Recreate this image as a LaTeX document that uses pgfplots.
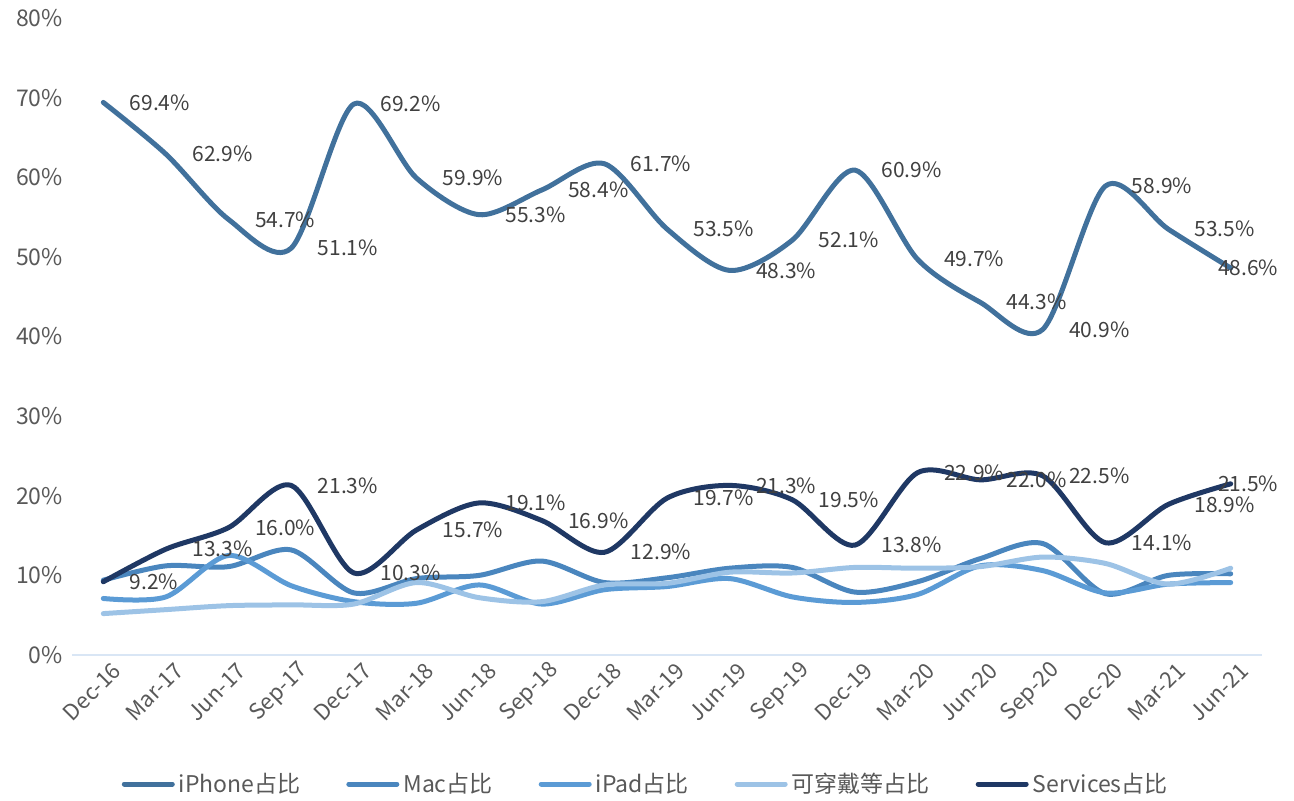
\documentclass[border=0pt]{standalone}
\usepackage{pgfplots}
\pgfplotsset{compat=1.18}
\usepackage{fontspec}
\setmainfont{Noto Sans CJK SC}
\definecolor{cIphone}{RGB}{65,113,156}
\definecolor{cMac}{RGB}{74,134,190}
\definecolor{cIpad}{RGB}{91,155,213}
\definecolor{cWear}{RGB}{157,195,230}
\definecolor{cServ}{RGB}{31,56,100}
\definecolor{cTick}{RGB}{89,89,89}
\definecolor{cLab}{RGB}{64,64,64}
\definecolor{cAxis}{RGB}{217,230,245}
\begin{document}
\begin{tikzpicture}
\begin{axis}[
  scale only axis,
  width=595pt, height=318.5pt,
  xmin=-0.5, xmax=18.5, ymin=0, ymax=80,
  /pgf/number format/assume math mode=true,
  separate axis lines,
  axis x line*=bottom,
  axis y line*=left,
  x axis line style={draw=cAxis, line width=0.8pt},
  y axis line style={draw=none},
  major tick length=0pt,
  ytick={0,10,...,80},
  yticklabel={\pgfmathprintnumber{\tick}\%},
  yticklabel style={font=\fontsize{11.5}{13}\selectfont, text=cTick, xshift=-1pt},
  xtick={0,...,18},
  xticklabels={Dec-16,Mar-17,Jun-17,Sep-17,Dec-17,Mar-18,Jun-18,Sep-18,Dec-18,Mar-19,Jun-19,Sep-19,Dec-19,Mar-20,Jun-20,Sep-20,Dec-20,Mar-21,Jun-21},
  xticklabel style={font=\fontsize{11}{13}\selectfont, text=cTick, rotate=45, anchor=east, xshift=4pt, yshift=-9pt},
  every axis plot/.append style={smooth, line width=2.5pt, line cap=round, line join=round, mark=none},
  legend columns=5,
  legend style={at={(0.483,-0.2025)}, anchor=center, draw=none, fill=none,
    font=\fontsize{11.5}{13}\selectfont, text=cTick,
    /tikz/every even column/.append style={column sep=21pt}},
  legend image code/.code={\draw[#1, line width=2.5pt, line cap=round] (0pt,0pt) -- (24pt,0pt);},
  lblR/.style={draw=none, forget plot, nodes near coords={\pgfmathprintnumber[fixed,fixed zerofill,precision=1]{\pgfplotspointmeta}\%},
    every node near coord/.append style={anchor=west, inner sep=0pt, xshift=12pt,
      font=\fontsize{10.5}{12}\selectfont, text=cLab}},
  lblL/.style={draw=none, forget plot, nodes near coords={\pgfmathprintnumber[fixed,fixed zerofill,precision=1]{\pgfplotspointmeta}\%},
    every node near coord/.append style={anchor=east, inner sep=0pt, xshift=25pt,
      font=\fontsize{10.5}{12}\selectfont, text=cLab}},
]
\addplot[cIphone] coordinates {
(0,69.4) (1,62.9) (2,54.7) (3,51.1) (4,69.2) (5,59.9) (6,55.3) (7,58.4) (8,61.7) (9,53.5)
(10,48.3) (11,52.1) (12,60.9) (13,49.7) (14,44.3) (15,40.9) (16,58.9) (17,53.5) (18,48.6)};
\addlegendentry{iPhone占比}
\addplot[cMac] coordinates {
(0,9.4) (1,11.2) (2,11.1) (3,13.2) (4,7.8) (5,9.6) (6,10.0) (7,11.8) (8,9.1) (9,9.7)
(10,10.9) (11,11.0) (12,7.9) (13,9.2) (14,12.1) (15,14.0) (16,7.7) (17,10.0) (18,10.2)};
\addlegendentry{Mac占比}
\addplot[cIpad] coordinates {
(0,7.1) (1,7.3) (2,12.5) (3,8.7) (4,6.7) (5,6.5) (6,8.8) (7,6.4) (8,8.2) (9,8.6)
(10,9.6) (11,7.3) (12,6.6) (13,7.6) (14,11.2) (15,10.6) (16,7.8) (17,8.9) (18,9.1)};
\addlegendentry{iPad占比}
\addplot[cWear] coordinates {
(0,5.2) (1,5.7) (2,6.2) (3,6.3) (4,6.4) (5,9.1) (6,7.2) (7,6.7) (8,8.8) (9,9.0)
(10,10.4) (11,10.3) (12,11.0) (13,10.9) (14,11.1) (15,12.3) (16,11.5) (17,8.9) (18,10.9)};
\addlegendentry{可穿戴等占比}
\addplot[cServ] coordinates {
(0,9.2) (1,13.3) (2,16.0) (3,21.3) (4,10.3) (5,15.7) (6,19.1) (7,16.9) (8,12.9) (9,19.7)
(10,21.3) (11,19.5) (12,13.8) (13,22.9) (14,22.0) (15,22.5) (16,14.1) (17,18.9) (18,21.5)};
\addlegendentry{Services占比}
% data labels
\addplot[lblR] coordinates {
(0,69.4) (1,62.9) (2,54.7) (3,51.1) (4,69.2) (5,59.9) (6,55.3) (7,58.4) (8,61.7) (9,53.5)
(10,48.3) (11,52.1) (12,60.9) (13,49.7) (14,44.3) (15,40.9) (16,58.9) (17,53.5)};
\addplot[lblL] coordinates {(18,48.6)};
\addplot[lblR] coordinates {
(0,9.2) (1,13.3) (2,16.0) (3,21.3) (4,10.3) (5,15.7) (6,19.1) (7,16.9) (8,12.9) (9,19.7)
(10,21.3) (11,19.5) (12,13.8) (13,22.9) (14,22.0) (15,22.5) (16,14.1) (17,18.9)};
\addplot[lblL] coordinates {(18,21.5)};
\end{axis}
\pgfresetboundingbox
\path (-36pt,-72.5pt) rectangle (611pt,327.5pt);
\end{tikzpicture}
\end{document}
